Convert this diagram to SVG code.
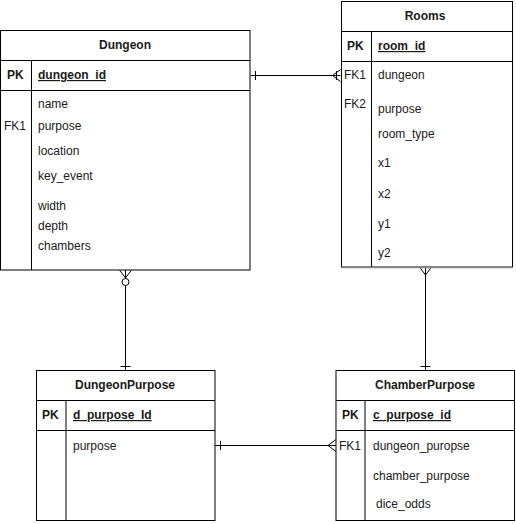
<svg xmlns="http://www.w3.org/2000/svg" width="516" height="524" viewBox="0 0 516 524">
<style>
.box{fill:#fff;stroke:#000;stroke-width:1}
.ln{stroke:#000;stroke-width:1;fill:none}
text{font-family:"Liberation Sans",Arial,sans-serif;font-size:12px;fill:#1a1a1a}
.t{font-weight:bold;text-anchor:middle}
.pk{font-weight:bold}
.id{font-weight:bold;text-decoration:underline}
</style>
<rect width="516" height="524" fill="#fff"/>
<g id="connectors">
<path class="ln" d="M250.5 75.5 H340.5 M255.5 71 V80 M336.5 71 V80 M340.5 69.5 L332.5 75.5 L340.5 81.5"/>
<path class="ln" d="M125.5 270 V370 M120.5 366.5 H130.5 M119.5 270 L125.5 278 L131.5 270"/>
<circle cx="125.5" cy="282" r="3.5" fill="#fff" stroke="#000"/>
<path class="ln" d="M425.5 267 V370 M420.5 366.5 H430.5 M419.5 267 L425.5 275 L431.5 267"/>
<path class="ln" d="M215 445.5 H336 M220.5 441 V450 M336 439.5 L328 445.5 L336 451.5"/>
</g>
<g id="Dungeon">
<rect class="box" x="0.5" y="30.5" width="249.5" height="239.5"/>
<path class="ln" d="M0.5 60.5 H250 M0.5 90.5 H250 M31.5 60.5 V270"/>
<text class="t" x="125" y="49">Dungeon</text>
<text class="pk" x="7" y="79">PK</text>
<text class="id" x="38" y="79">dungeon_id</text>
<text x="4" y="130">FK1</text>
<text x="38" y="108">name</text>
<text x="38" y="130">purpose</text>
<text x="38" y="155">location</text>
<text x="38" y="180">key_event</text>
<text x="38" y="210">width</text>
<text x="38" y="230">depth</text>
<text x="38" y="250">chambers</text>
</g>
<g id="Rooms">
<rect class="box" x="341.5" y="1.5" width="171" height="265.5"/>
<path class="ln" d="M341.5 31.5 H512.5 M341.5 61.5 H512.5 M371.5 31.5 V267"/>
<path d="M341.5 267.5 H512.5" stroke="#888" stroke-width="1.5"/>
<text class="t" x="425" y="20">Rooms</text>
<text class="pk" x="347" y="50">PK</text>
<text class="id" x="378" y="50">room_id</text>
<text x="344" y="79">FK1</text>
<text x="344" y="108">FK2</text>
<text x="378" y="79">dungeon</text>
<text x="378" y="113">purpose</text>
<text x="378" y="138">room_type</text>
<text x="378" y="167">x1</text>
<text x="378" y="198">x2</text>
<text x="378" y="228">y1</text>
<text x="378" y="257">y2</text>
</g>
<g id="DungeonPurpose">
<rect class="box" x="36.5" y="370.5" width="178.5" height="150"/>
<path class="ln" d="M36.5 400.5 H215 M36.5 430.5 H215 M66 400.5 V520.5"/>
<text class="t" x="125" y="389">DungeonPurpose</text>
<text class="pk" x="42" y="419">PK</text>
<text class="id" x="73" y="419">d_purpose_Id</text>
<text x="73" y="450">purpose</text>
</g>
<g id="ChamberPurpose">
<rect class="box" x="336" y="370.5" width="178.5" height="150"/>
<path class="ln" d="M336 400.5 H514.5 M336 430.5 H514.5 M365 400.5 V520.5"/>
<text class="t" x="425" y="389">ChamberPurpose</text>
<text class="pk" x="342" y="419">PK</text>
<text class="id" x="373" y="419">c_purpose_id</text>
<text x="339" y="450">FK1</text>
<text x="373" y="450">dungeon_puropse</text>
<text x="373" y="480">chamber_purpose</text>
<text x="376" y="508">dice_odds</text>
</g>
</svg>
